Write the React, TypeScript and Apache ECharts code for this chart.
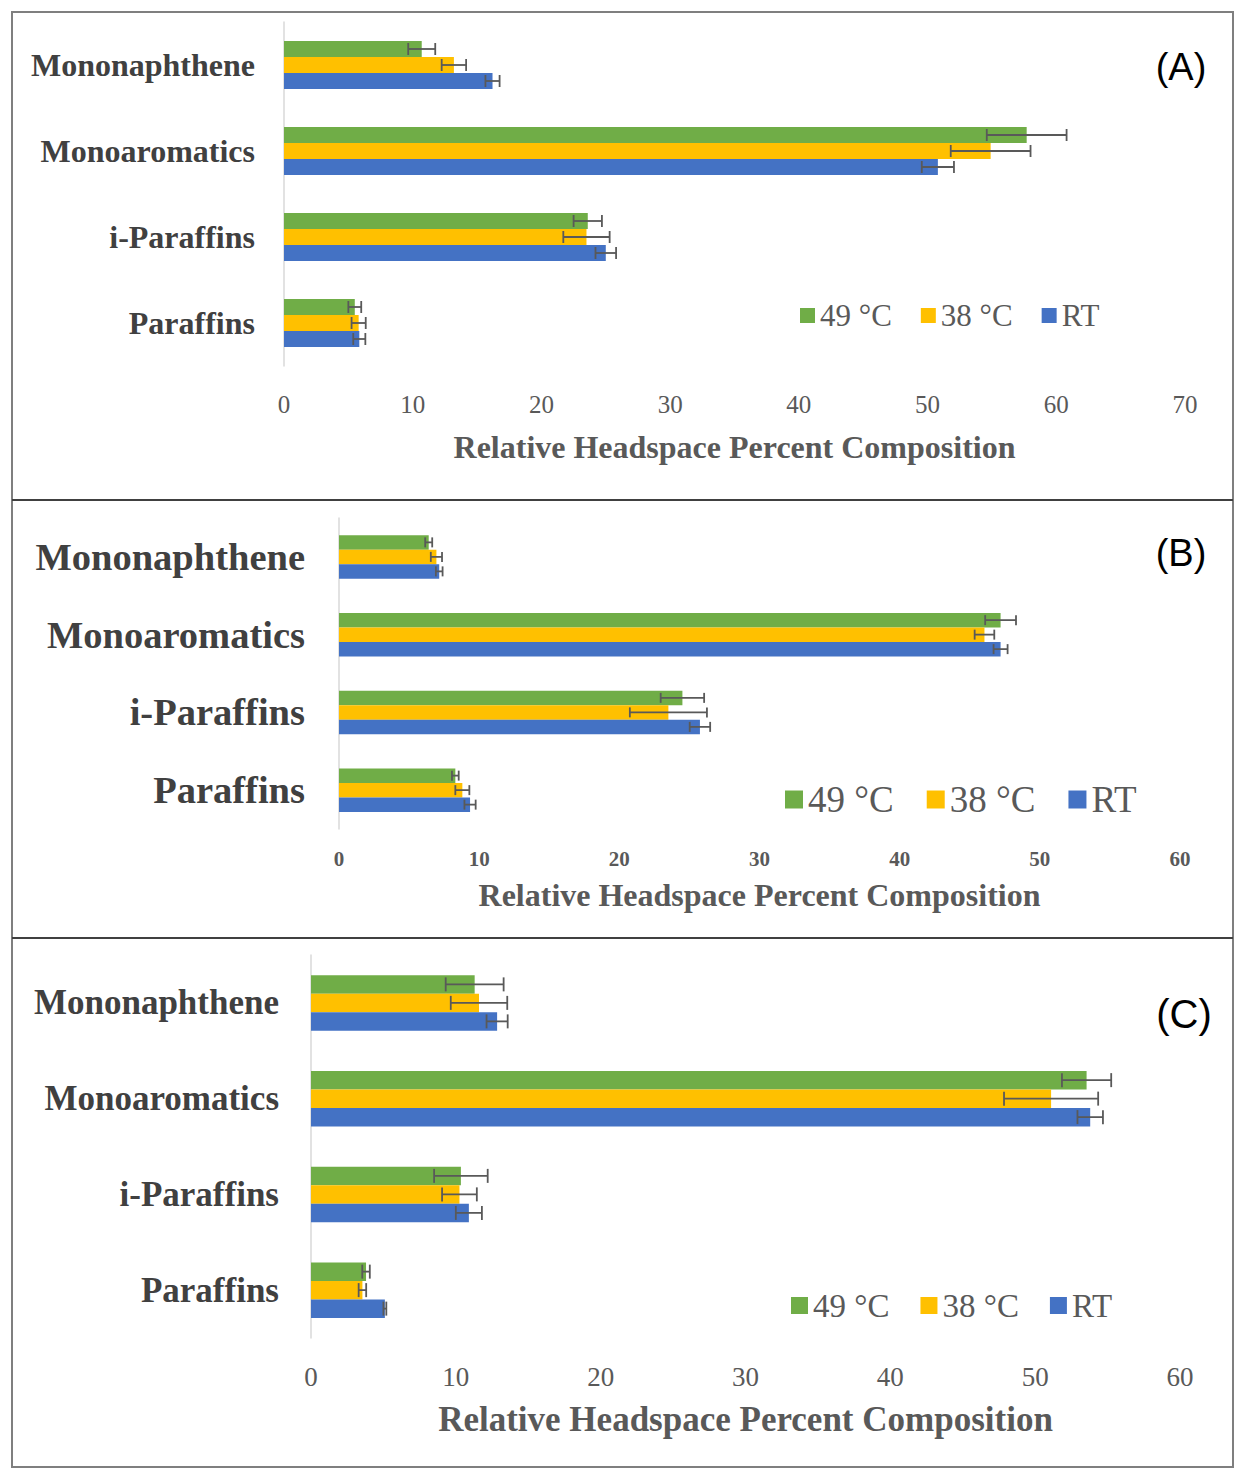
import React, { useEffect, useRef } from "react";
import * as echarts from "echarts";

const categories = ["Mononaphthene", "Monoaromatics", "i-Paraffins", "Paraffins"];
const seriesNames = ["49 °C", "38 °C", "RT"];
const seriesColors = ["#70AD47", "#FFC000", "#4472C4"];

// Panel A
const a49 = [10.7, 57.7, 23.6, 5.5];
const a49Err = [1.05, 3.1, 1.1, 0.5];
const a38 = [13.2, 54.9, 23.5, 5.8];
const a38Err = [0.95, 3.1, 1.8, 0.55];
const aRT = [16.2, 50.8, 25.0, 5.85];
const aRTErr = [0.55, 1.25, 0.8, 0.47];

// Panel B
const b49 = [6.4, 47.2, 24.5, 8.3];
const b49Err = [0.25, 1.1, 1.55, 0.24];
const b38 = [6.95, 46.05, 23.5, 8.8];
const b38Err = [0.4, 0.7, 2.75, 0.5];
const bRT = [7.15, 47.2, 25.75, 9.35];
const bRTErr = [0.24, 0.5, 0.73, 0.4];

// Panel C
const c49 = [11.3, 53.55, 10.35, 3.8];
const c49Err = [2.0, 1.7, 1.85, 0.26];
const c38 = [11.6, 51.1, 10.25, 3.55];
const c38Err = [1.95, 3.25, 1.2, 0.26];
const cRT = [12.85, 53.8, 10.9, 5.1];
const cRTErr = [0.73, 0.88, 0.9, 0.1];

const axisTitle = "Relative Headspace Percent Composition";
const panelLabels = ["(A)", "(B)", "(C)"];
const xMaxes = [70, 60, 60];

const SERIF = "'Liberation Serif', 'Times New Roman', serif";
const SANS = "'Liberation Sans', Arial, sans-serif";

type Panel = {
  values: number[][];
  errs: number[][];
  grid: { left: number; top: number; width: number; height: number };
  barWidth: number;
  capHalf: number;
  catFont: number;
  catMargin: number;
  tickFont: number;
  tickMargin: number;
  titleFont: number;
  titleGap: number;
  legend: { left: number; top: number; icon: number; font: number; gap: number };
  label: { x: number; y: number; font: number };
};

const panels: Panel[] = [
  {
    values: [a49, a38, aRT],
    errs: [a49Err, a38Err, aRTErr],
    grid: { left: 284, top: 22, width: 901, height: 344 },
    barWidth: 16,
    capHalf: 6,
    catFont: 32,
    catMargin: 29,
    tickFont: 25,
    tickMargin: 26,
    titleFont: 32,
    titleGap: 65,
    legend: { left: 800, top: 300, icon: 15, font: 31, gap: 29 },
    label: { x: 1181, y: 67, font: 38 },
  },
  {
    values: [b49, b38, bRT],
    errs: [b49Err, b38Err, bRTErr],
    grid: { left: 339, top: 518, width: 841, height: 311 },
    barWidth: 14.5,
    capHalf: 5,
    catFont: 38.5,
    catMargin: 34,
    tickFont: 21,
    tickMargin: 19,
    titleFont: 32,
    titleGap: 50,
    legend: { left: 785, top: 781, icon: 18, font: 37, gap: 33 },
    label: { x: 1181, y: 553, font: 38 },
  },
  {
    values: [c49, c38, cRT],
    errs: [c49Err, c38Err, cRTErr],
    grid: { left: 311, top: 955, width: 869, height: 383 },
    barWidth: 18.5,
    capHalf: 7,
    catFont: 35,
    catMargin: 32,
    tickFont: 27,
    tickMargin: 25,
    titleFont: 35,
    titleGap: 64,
    legend: { left: 791, top: 1289, icon: 17, font: 33, gap: 31 },
    label: { x: 1184, y: 1014, font: 40 },
  },
];

function buildOption() {
  const grid: any[] = [];
  const xAxis: any[] = [];
  const yAxis: any[] = [];
  const series: any[] = [];
  const legend: any[] = [];
  const graphic: any[] = [];

  panels.forEach((p, pi) => {
    grid.push({ ...p.grid, containLabel: false });
    xAxis.push({
      type: "value",
      gridIndex: pi,
      min: 0,
      max: xMaxes[pi],
      interval: 10,
      axisLine: { show: false },
      axisTick: { show: false },
      splitLine: { show: false },
      axisLabel: {
        color: "#595959",
        fontFamily: SERIF,
        fontSize: p.tickFont,
        margin: p.tickMargin,
        fontWeight: pi === 1 ? "bold" : "normal",
      },
      name: axisTitle,
      nameLocation: "middle",
      nameGap: p.titleGap,
      nameTextStyle: {
        color: "#595959",
        fontFamily: SERIF,
        fontWeight: "bold",
        fontSize: p.titleFont,
      },
    });
    yAxis.push({
      type: "category",
      gridIndex: pi,
      data: categories,
      inverse: true,
      axisLine: { show: true, lineStyle: { color: "#D9D9D9", width: 1.5 } },
      axisTick: { show: false },
      splitLine: { show: false },
      axisLabel: {
        color: "#404040",
        fontFamily: SERIF,
        fontWeight: "bold",
        fontSize: p.catFont,
        margin: p.catMargin,
      },
    });

    seriesNames.forEach((name, si) => {
      series.push({
        type: "bar",
        name,
        xAxisIndex: pi,
        yAxisIndex: pi,
        data: p.values[si],
        barWidth: p.barWidth,
        barGap: "0%",
        itemStyle: { color: seriesColors[si] },
        z: 2,
      });
    });

    const errData: number[][] = [];
    seriesNames.forEach((_, si) => {
      p.values[si].forEach((v, ci) => {
        errData.push([v, ci, p.errs[si][ci], si]);
      });
    });
    const bw = p.barWidth;
    const cap = p.capHalf;
    series.push({
      type: "custom",
      name: "err" + pi,
      xAxisIndex: pi,
      yAxisIndex: pi,
      data: errData,
      encode: { x: 0, y: 1 },
      z: 5,
      silent: true,
      renderItem: (params: any, api: any) => {
        const v = api.value(0);
        const c = api.value(1);
        const e = api.value(2);
        const k = api.value(3);
        const center = api.coord([v, c]);
        const y = center[1] + (k - 1) * bw;
        const xl = api.coord([v - e, c])[0];
        const xr = api.coord([v + e, c])[0];
        const style = { stroke: "#595959", lineWidth: 1.8 };
        return {
          type: "group",
          children: [
            { type: "line", shape: { x1: xl, y1: y, x2: xr, y2: y }, style },
            { type: "line", shape: { x1: xl, y1: y - cap, x2: xl, y2: y + cap }, style },
            { type: "line", shape: { x1: xr, y1: y - cap, x2: xr, y2: y + cap }, style },
          ],
        };
      },
    });

    legend.push({
      data: seriesNames,
      left: p.legend.left,
      top: p.legend.top,
      orient: "horizontal",
      icon: "rect",
      itemWidth: p.legend.icon,
      itemHeight: p.legend.icon,
      itemGap: p.legend.gap,
      padding: 0,
      selectedMode: false,
      textStyle: {
        color: "#595959",
        fontFamily: SERIF,
        fontSize: p.legend.font,
      },
    });

    graphic.push({
      type: "text",
      x: p.label.x,
      y: p.label.y,
      style: {
        text: panelLabels[pi],
        fill: "#000000",
        font: `${p.label.font}px ${SANS}`,
        textAlign: "center",
        textVerticalAlign: "middle",
      },
      z: 10,
    });
  });

  graphic.push({
    type: "rect",
    shape: { x: 12, y: 12, width: 1221, height: 1455 },
    style: { fill: "none", stroke: "#7F7F7F", lineWidth: 2 },
    z: 10,
  });
  graphic.push({
    type: "line",
    shape: { x1: 12, y1: 500, x2: 1233, y2: 500 },
    style: { stroke: "#404040", lineWidth: 2 },
    z: 10,
  });
  graphic.push({
    type: "line",
    shape: { x1: 12, y1: 938, x2: 1233, y2: 938 },
    style: { stroke: "#404040", lineWidth: 2 },
    z: 10,
  });

  return {
    animation: false,
    backgroundColor: "#ffffff",
    grid,
    xAxis,
    yAxis,
    legend,
    series,
    graphic,
  };
}

export default function App() {
  const ref = useRef<HTMLDivElement>(null);
  useEffect(() => {
    if (!ref.current) return;
    const chart = echarts.init(ref.current, undefined, { renderer: "svg" });
    chart.setOption(buildOption());
    return () => {
      chart.dispose();
    };
  }, []);
  return (
    <div
      ref={ref}
      style={{ position: "absolute", left: 0, top: 0, width: 1246, height: 1477 }}
    />
  );
}
